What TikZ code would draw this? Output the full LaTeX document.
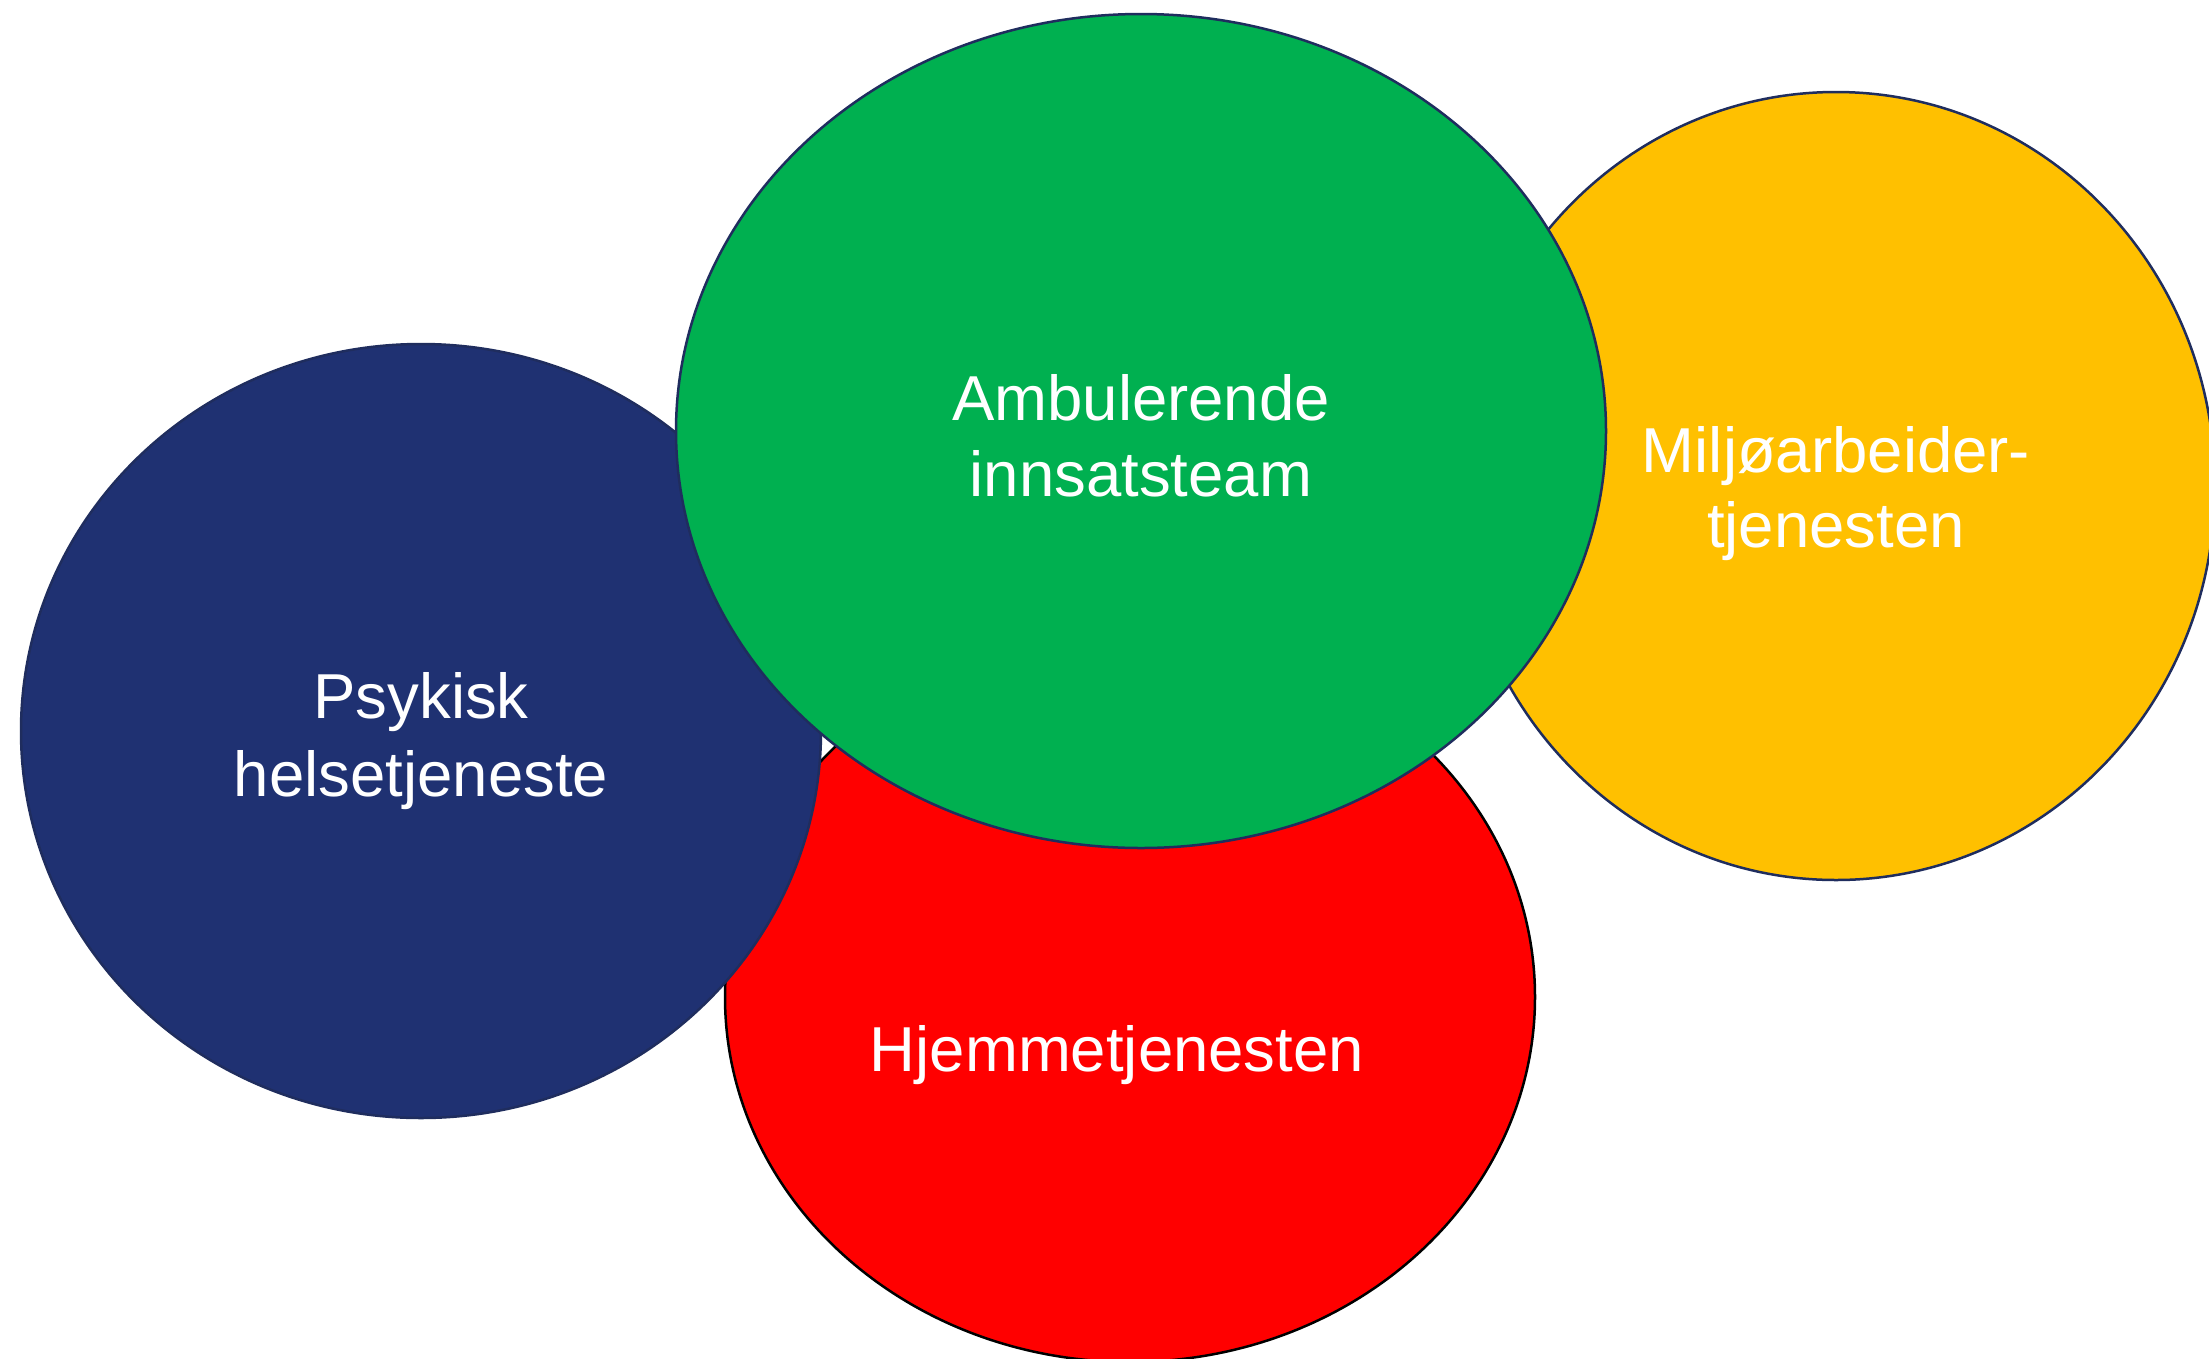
\documentclass[tikz,border=0pt]{standalone}
\usepackage{fontspec}
\setmainfont{Liberation Sans}
\definecolor{cblue}{HTML}{1F3172}
\definecolor{cgreen}{HTML}{00B050}
\definecolor{cred}{HTML}{FF0000}
\definecolor{cyellow}{HTML}{FFC000}
\definecolor{cline}{HTML}{1F2D5E}
\tikzset{
  blob/.style={line width=2.5pt, draw=cline},
  lbl/.style={text=white, font=\fontsize{63.5}{75}\selectfont, align=center, inner sep=0pt, anchor=base},
}
\begin{document}
\begin{tikzpicture}[x=1pt,y=-1pt]
\useasboundingbox (0,0) rectangle (2209,1358);
\clip (0,0) rectangle (2209,1358);
\fill[white] (0,0) rectangle (2209,1358);
\path[blob, fill=cyellow] (1836,486) ellipse [x radius=379, y radius=394];
\path[blob, fill=cred, draw=black] (1130,997) ellipse [x radius=405, y radius=365];
\path[blob, fill=cblue] (421,731) ellipse [x radius=400, y radius=387];
\path[blob, fill=cgreen] (1141,431) ellipse [x radius=465, y radius=417];
\node[lbl] (amb1) at (1141,420) {Ambulerende};
\node[lbl] (amb2) at (1141,496) {innsatsteam};
\node[lbl] (psy1) at (421,718) {Psykisk};
\node[lbl] (psy2) at (421,796) {helsetjeneste};
\node[lbl] (hje) at (1117,1071) {Hjemmetjenesten};
\node[lbl] (mil1) at (1836,472) {Miljøarbeider-};
\node[lbl] (mil2) at (1836,547) {tjenesten};
\end{tikzpicture}
\end{document}
